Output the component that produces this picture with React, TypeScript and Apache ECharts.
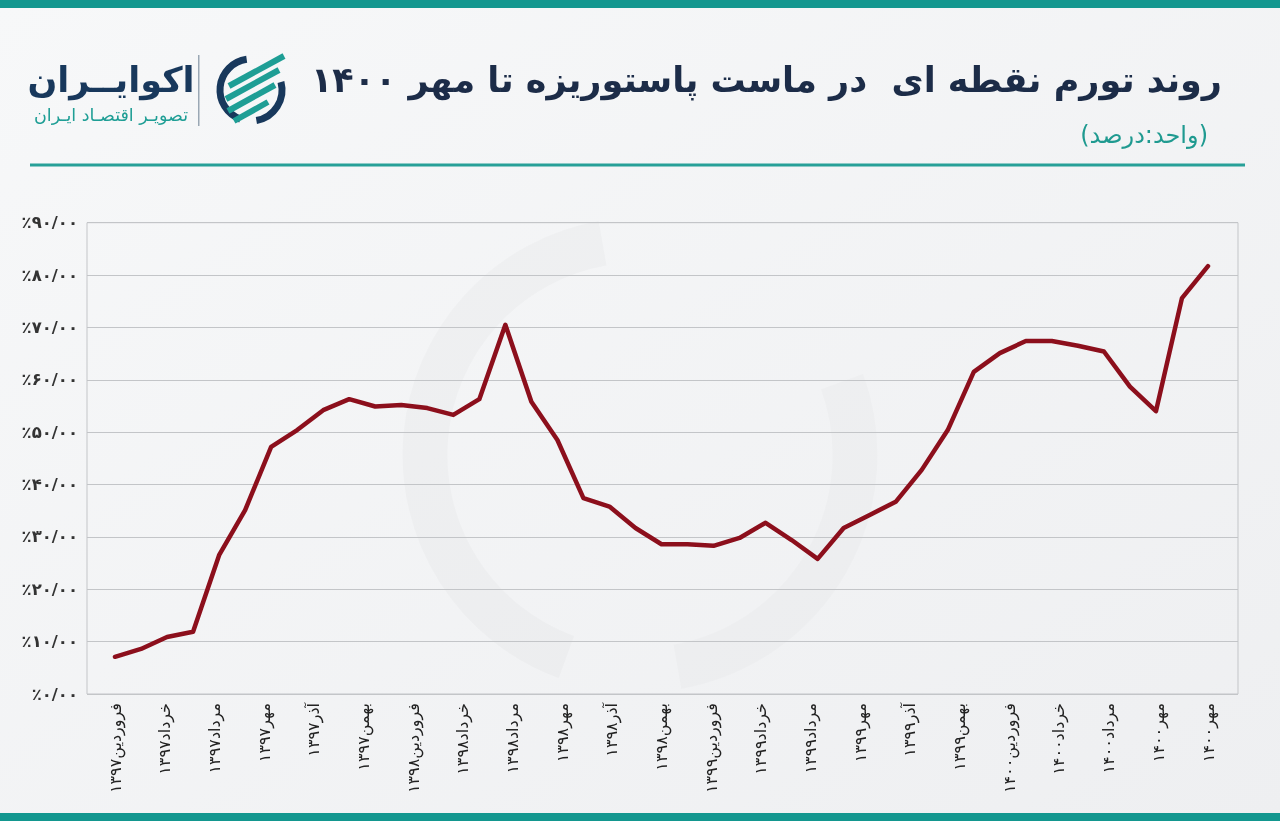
import React, { useEffect, useRef } from "react";
import * as echarts from "echarts";

const MONTHS = ["فروردین", "اردیبهشت", "خرداد", "تیر", "مرداد", "شهریور", "مهر", "آبان", "آذر", "دی", "بهمن", "اسفند"];
const YEARS = ["۱۳۹۷", "۱۳۹۸", "۱۳۹۹", "۱۴۰۰"];

const TICK_LABELS = [
  "فروردین۱۳۹۷", "خرداد۱۳۹۷", "مرداد۱۳۹۷", "مهر۱۳۹۷", "آذر۱۳۹۷", "بهمن۱۳۹۷",
  "فروردین۱۳۹۸", "خرداد۱۳۹۸", "مرداد۱۳۹۸", "مهر۱۳۹۸", "آذر۱۳۹۸", "بهمن۱۳۹۸",
  "فروردین۱۳۹۹", "خرداد۱۳۹۹", "مرداد۱۳۹۹", "مهر۱۳۹۹", "آذر۱۳۹۹", "بهمن۱۳۹۹",
  "فروردین۱۴۰۰", "خرداد۱۴۰۰", "مرداد۱۴۰۰", "مهر۱۴۰۰", "مهر۱۴۰۰",
];

const INFLATION = [
  7.1, 8.6, 10.9, 11.9, 26.5, 35.1, 47.2, 50.4, 54.2, 56.3, 54.9, 55.2,
  54.6, 53.3, 56.3, 70.5, 55.8, 48.5, 37.4, 35.8, 31.7, 28.6, 28.6, 28.3,
  29.8, 32.7, 29.4, 25.8, 31.7, 34.2, 36.7, 42.8, 50.4, 61.5, 65.1, 67.4,
  67.4, 66.5, 65.4, 58.7, 54.0, 75.6, 81.7,
];

const CATEGORIES: string[] = [];
YEARS.forEach((y) => MONTHS.forEach((m) => CATEGORIES.push(m + y)));
CATEGORIES.length = INFLATION.length;

const TITLE = "روند تورم نقطه ای  در ماست پاستوریزه تا مهر ۱۴۰۰";
const SUBTITLE = "(واحد:درصد)";
const FA_DIGITS = "۰۱۲۳۴۵۶۷۸۹";
const fa = (s: string) => s.replace(/[0-9]/g, (d) => FA_DIGITS[+d]);

const NAVY = "#18385c";
const TEAL = "#1e9e95";
const FONT = '"DejaVu Sans", sans-serif';

export default function App() {
  const ref = useRef<HTMLDivElement>(null);
  useEffect(() => {
    const chart = echarts.init(ref.current!, null, { renderer: "svg" });
    const deg = Math.PI / 180;
    const option = {
      animation: false,
      graphic: [
        {
          type: "rect", silent: true, z: -10,
          shape: { x: 0, y: 0, width: 1280, height: 821 },
          style: {
            fill: new echarts.graphic.LinearGradient(0, 0, 1, 1, [
              { offset: 0, color: "#f7f8f9" },
              { offset: 1, color: "#eeeff1" },
            ]),
          },
        },
        { type: "rect", shape: { x: 0, y: 0, width: 1280, height: 8 }, style: { fill: "#13978f" } },
        { type: "rect", shape: { x: 0, y: 813, width: 1280, height: 8 }, style: { fill: "#13978f" } },
        { type: "rect", shape: { x: 30, y: 163.5, width: 1215, height: 3 }, style: { fill: "#27a098" } },
        // watermark
        {
          type: "arc", silent: true, z: -5,
          shape: { cx: 640, cy: 455, r: 215, startAngle: 110 * deg, endAngle: 260 * deg, clockwise: true },
          style: { stroke: "rgba(0,0,0,0.018)", lineWidth: 45, fill: "none" },
        },
        {
          type: "arc", silent: true, z: -5,
          shape: { cx: 640, cy: 455, r: 215, startAngle: -20 * deg, endAngle: 80 * deg, clockwise: true },
          style: { stroke: "rgba(0,0,0,0.016)", lineWidth: 45, fill: "none" },
        },
        // title
        {
          type: "text", x: 1222, y: 80,
          style: {
            text: "\u200F" + TITLE + "\u200F", fill: "#1c2c48", font: "bold 35px " + FONT,
            textAlign: "right", textVerticalAlign: "middle", align: "right", verticalAlign: "middle",
          },
        },
        {
          type: "text", x: 1208, y: 135,
          style: {
            text: "\u200F" + SUBTITLE + "\u200F", fill: "#1f9a90", font: "24px " + FONT,
            textAlign: "right", textVerticalAlign: "middle", align: "right", verticalAlign: "middle",
          },
        },
        // logo text
        {
          type: "text", x: 111, y: 80,
          style: {
            text: "اکوایــران", fill: NAVY, font: "bold 35px " + FONT,
            textAlign: "center", textVerticalAlign: "middle", align: "center", verticalAlign: "middle",
          },
        },
        {
          type: "text", x: 111, y: 115,
          style: {
            text: "تصویـر اقتصـاد ایـران", fill: TEAL, font: "17.5px " + FONT,
            textAlign: "center", textVerticalAlign: "middle", align: "center", verticalAlign: "middle",
          },
        },
        { type: "rect", shape: { x: 198, y: 55, width: 1.5, height: 71 }, style: { fill: "#9aa7b4" } },
        // logo mark
        {
          type: "arc",
          shape: { cx: 251, cy: 90, r: 31, startAngle: 110 * deg, endAngle: 262 * deg, clockwise: true },
          style: { stroke: NAVY, lineWidth: 7, fill: "none" },
        },
        {
          type: "arc",
          shape: { cx: 251, cy: 90, r: 31, startAngle: -15 * deg, endAngle: 80 * deg, clockwise: true },
          style: { stroke: NAVY, lineWidth: 7, fill: "none" },
        },
        { type: "line", shape: { x1: 229, y1: 86, x2: 284, y2: 56 }, style: { stroke: TEAL, lineWidth: 6 } },
        { type: "line", shape: { x1: 226, y1: 99, x2: 279, y2: 70 }, style: { stroke: TEAL, lineWidth: 6 } },
        { type: "line", shape: { x1: 228, y1: 111, x2: 275, y2: 85 }, style: { stroke: TEAL, lineWidth: 6 } },
        { type: "line", shape: { x1: 234, y1: 121, x2: 268, y2: 102 }, style: { stroke: TEAL, lineWidth: 6 } },
      ],
      grid: [
        { left: 87, right: 42, top: 222.7, bottom: 127, show: true, borderColor: "#c3c5c8", borderWidth: 1 },
        { left: 115, right: 72, top: 222.7, bottom: 127 },
      ],
      xAxis: [
        { type: "value", gridIndex: 0, show: false, min: 0, max: 1 },
        {
          type: "category", gridIndex: 1, data: CATEGORIES, boundaryGap: false,
          show: false,
        },
        {
          type: "category", gridIndex: 1, data: TICK_LABELS, boundaryGap: false, position: "bottom",
          axisLine: { show: false }, axisTick: { show: false },
          axisLabel: {
            interval: 0, rotate: 90, margin: 9, color: "#222", fontSize: 16, fontFamily: FONT,
            formatter: (v: string) => "\u200F" + v,
          },
        },
      ],
      yAxis: [
        {
          type: "value", gridIndex: 0, min: 0, max: 90, interval: 10,
          axisLine: { show: false }, axisTick: { show: false },
          splitLine: { lineStyle: { color: "#c3c5c8", width: 1 } },
          axisLabel: {
            margin: 9, color: "#333", fontSize: 16.5, fontWeight: "bold", fontFamily: FONT,
            formatter: (v: number) => "٪" + fa(String(v)) + "/۰۰",
          },
        },
        { type: "value", gridIndex: 1, min: 0, max: 90, interval: 10, show: false, splitLine: { show: false } },
      ],
      series: [
        {
          type: "line", xAxisIndex: 1, yAxisIndex: 1, data: INFLATION,
          showSymbol: false, symbol: "none",
          lineStyle: { color: "#8c0f1c", width: 4.5, join: "round", cap: "round" },
        },
      ],
    };
    chart.setOption(option as any);
    return () => chart.dispose();
  }, []);
  return <div ref={ref} style={{ position: "fixed", left: 0, top: 0, width: 1280, height: 821 }} />;
}
